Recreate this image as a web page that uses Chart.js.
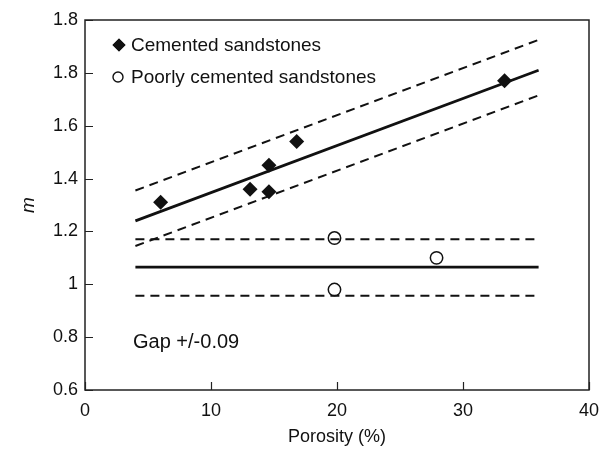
<!DOCTYPE html>
<html>
<head>
<meta charset="utf-8">
<script src="https://cdn.jsdelivr.net/npm/chart.js@4/dist/chart.umd.min.js"></script>
<style>
  html, body { margin: 0; padding: 0; background: #fff; }
  #wrap { width: 614px; height: 450px; position: relative; }
</style>
</head>
<body>
<div id="wrap"><canvas id="c" width="614" height="450"></canvas></div>
<script>
// Measured samples: porosity (%) and cementation exponent m
const cementedPorosity = [6, 13.1, 14.6, 14.6, 16.8, 33.3];
const cementedM = [1.31, 1.36, 1.45, 1.35, 1.54, 1.77];
const poorPorosity = [19.8, 27.9, 19.8];
const poorM = [1.175, 1.10, 0.98];

// Trend lines and their bands, evaluated at the ends of the porosity range
const fitPorosity = [4, 36];
const cementedFit = [1.24, 1.81];
const cementedUpper = [1.355, 1.925];
const cementedLower = [1.145, 1.715];
const poorFit = [1.065, 1.065];
const poorUpper = [1.17, 1.17];
const poorLower = [0.957, 0.957];

// Axis ticks
const xTicks = [0, 10, 20, 30, 40];
const yTicks = [0.6, 0.8, 1.0, 1.2, 1.4, 1.6, 1.8, 2.0];
const yTickLabels = ['0.6', '0.8', '1', '1.2', '1.4', '1.6', '1.8', '1.8'];

const legendLabels = ['Cemented sandstones', 'Poorly cemented sandstones'];
const gapNote = 'Gap +/-0.09';

const FONT = "'Liberation Sans', Arial, Helvetica, sans-serif";
const INK = '#111';

const pts = (xs, ys) => xs.map((x, i) => ({ x: x, y: ys[i] }));

const lineSet = (ys, dashed) => ({
  data: pts(fitPorosity, ys),
  showLine: true,
  borderColor: INK,
  borderWidth: dashed ? 2 : 2.8,
  borderDash: dashed ? [9, 6] : [],
  pointRadius: 0,
  pointHoverRadius: 0,
  fill: false
});

// Frame, inward tick marks, legend and note
const decor = {
  id: 'decor',
  afterDatasetsDraw(chart) {
    const { ctx, chartArea: a, scales: { x, y } } = chart;
    ctx.save();
    ctx.strokeStyle = '#222';
    ctx.lineWidth = 1.5;
    ctx.strokeRect(a.left, a.top, a.right - a.left, a.bottom - a.top);
    ctx.lineWidth = 1.2;
    ctx.beginPath();
    xTicks.forEach(v => {
      const px = Math.round(x.getPixelForValue(v)) + 0.5;
      ctx.moveTo(px, a.bottom);
      ctx.lineTo(px, a.bottom - 8);
    });
    yTicks.forEach(v => {
      const py = Math.round(y.getPixelForValue(v)) + 0.5;
      ctx.moveTo(a.left, py);
      ctx.lineTo(a.left + 8, py);
    });
    ctx.stroke();

    // legend
    ctx.fillStyle = INK;
    ctx.font = '19px ' + FONT;
    ctx.textBaseline = 'middle';
    ctx.textAlign = 'left';
    const lx = a.left + 34, ly1 = a.top + 25, ly2 = a.top + 57;
    Chart.helpers.drawPoint(ctx, { pointStyle: 'rectRot', radius: 6.5, rotation: 0 }, lx, ly1);
    ctx.fill();
    ctx.beginPath();
    ctx.arc(lx - 1, ly2, 5, 0, Math.PI * 2);
    ctx.fillStyle = '#fff';
    ctx.fill();
    ctx.strokeStyle = INK;
    ctx.lineWidth = 1.4;
    ctx.stroke();
    ctx.fillStyle = INK;
    ctx.fillText(legendLabels[0], lx + 12, ly1 + 1);
    ctx.fillText(legendLabels[1], lx + 12, ly2 + 1);

    ctx.font = '20px ' + FONT;
    ctx.fillText(gapNote, a.left + 48, y.getPixelForValue(0.8) + 5);
    ctx.restore();
  }
};

new Chart(document.getElementById('c'), {
  type: 'scatter',
  data: {
    datasets: [
      lineSet(cementedUpper, true),
      lineSet(cementedFit, false),
      lineSet(cementedLower, true),
      lineSet(poorUpper, true),
      lineSet(poorFit, false),
      lineSet(poorLower, true),
      {
        data: pts(cementedPorosity, cementedM),
        pointStyle: 'rectRot',
        pointRadius: 7.5,
        backgroundColor: INK,
        borderColor: INK,
        borderWidth: 0
      },
      {
        data: pts(poorPorosity, poorM),
        pointStyle: 'circle',
        pointRadius: 6.2,
        backgroundColor: '#fff',
        borderColor: INK,
        borderWidth: 1.5
      }
    ]
  },
  options: {
    responsive: false,
    animation: false,
    events: [],
    layout: { padding: { top: 20, right: 25, left: 0, bottom: 0 } },
    plugins: { legend: { display: false }, tooltip: { enabled: false } },
    scales: {
      x: {
        type: 'linear',
        min: 0, max: 40,
        afterFit(s) { s.height = 60; },
        afterBuildTicks(s) { s.ticks = xTicks.map(v => ({ value: v })); },
        grid: { display: false, drawTicks: false },
        border: { display: false },
        ticks: { color: INK, font: { family: FONT, size: 18 }, padding: 10, maxRotation: 0 },
        title: { display: true, text: 'Porosity (%)', color: INK, font: { family: FONT, size: 18 }, padding: { top: 2, bottom: 2 } }
      },
      y: {
        type: 'linear',
        min: 0.6, max: 2.0,
        afterFit(s) { s.width = 85; },
        afterBuildTicks(s) { s.ticks = yTicks.map(v => ({ value: v })); },
        grid: { display: false, drawTicks: false },
        border: { display: false },
        ticks: {
          color: INK, font: { family: FONT, size: 18 }, padding: 7,
          callback: (v, i) => yTickLabels[i]
        },
        title: { display: true, text: 'm', color: INK, font: { family: FONT, size: 19, style: 'italic' }, padding: { top: 17, bottom: 0 } }
      }
    }
  },
  plugins: [decor]
});
</script>
</body>
</html>
